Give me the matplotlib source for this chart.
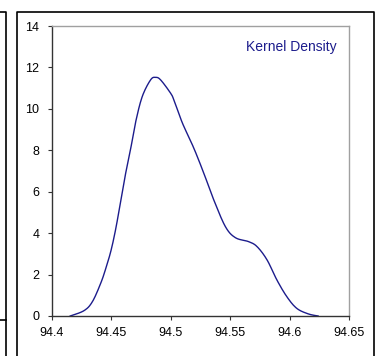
import numpy as np
import matplotlib
matplotlib.use("Agg")
import matplotlib.pyplot as plt
from matplotlib.lines import Line2D

# kernel density
x_vals = [94.4153, 94.427, 94.434, 94.441, 94.4453, 94.4498, 94.454, 94.4579,
          94.462, 94.4663, 94.4705, 94.476, 94.483, 94.4872, 94.4914, 94.4998,
          94.5026, 94.5076, 94.511, 94.5194, 94.5278, 94.5362, 94.546, 94.5544,
          94.5655, 94.5726, 94.581, 94.5893, 94.5977, 94.606, 94.6158, 94.624]
density = [0.0, 0.26, 0.69, 1.58, 2.3, 3.19, 4.31, 5.6,
           6.89, 8.1, 9.39, 10.6, 11.4, 11.52, 11.4, 10.76,
           10.43, 9.64, 9.15, 8.1, 6.89, 5.6, 4.31, 3.78,
           3.59, 3.35, 2.71, 1.74, 0.93, 0.37, 0.1, 0.0]
x_ticks = [94.4, 94.45, 94.5, 94.55, 94.6, 94.65]
x_ticklabels = ["94.4", "94.45", "94.5", "94.55", "94.6", "94.65"]
y_ticks = [0, 2, 4, 6, 8, 10, 12, 14]

plt.rcParams['font.family'] = ['Liberation Sans', 'DejaVu Sans']

W, H = 379, 356
fig = plt.figure(figsize=(W / 100, H / 100), dpi=100)
ax = fig.add_axes([52 / W, 40 / H, (349 - 52) / W, (316 - 26) / H])


def cr(p, t):
    # Catmull-Rom curve between the read points
    out = []
    n = len(p)
    for tt in t:
        i = min(int(tt), n - 2)
        u = tt - i
        p0 = p[max(i - 1, 0)]
        p1 = p[i]
        p2 = p[i + 1]
        p3 = p[min(i + 2, n - 1)]
        out.append(0.5 * ((2 * p1) + (-p0 + p2) * u +
                          (2 * p0 - 5 * p1 + 4 * p2 - p3) * u ** 2 +
                          (-p0 + 3 * p1 - 3 * p2 + p3) * u ** 3))
    return np.array(out)


xs = np.array(x_vals)
ys = np.array(density)
t = np.linspace(0, len(xs) - 1, 400)
ax.plot(cr(xs, t), np.clip(cr(ys, t), 0, None), color='#1c1c8c', lw=1.0)

ax.set_xlim(94.4, 94.65)
ax.set_ylim(0, 14)
ax.set_xticks(x_ticks)
ax.set_xticklabels(x_ticklabels)
ax.set_yticks(y_ticks)
ax.tick_params(direction='out', length=3, width=0.8, labelsize=9,
               color='#333333')
ax.tick_params(axis='y', pad=6)
ax.tick_params(axis='x', pad=5)
for s in ['left', 'bottom']:
    ax.spines[s].set_color('#333333')
    ax.spines[s].set_linewidth(1.0)
for s in ['top', 'right']:
    ax.spines[s].set_color('#a0a0a0')
    ax.spines[s].set_linewidth(1.0)

ax.text(337 / W, 1 - 47 / H, 'Kernel Density', transform=fig.transFigure,
        ha='right', va='center', fontsize=10, color='#1c1c8c')

# panel frames
def px(x, y):
    return x / W, 1 - y / H

for seg in [[(0, 12), (6, 12), (6, 356)],
            [(0, 320), (6, 320)],
            [(17, 356), (17, 12), (374, 12), (374, 356)]]:
    xx, yy = zip(*[px(a, b) for a, b in seg])
    fig.add_artist(Line2D(xx, yy, color='black', lw=1.2,
                          transform=fig.transFigure))

fig.savefig('out.png', dpi=100)
